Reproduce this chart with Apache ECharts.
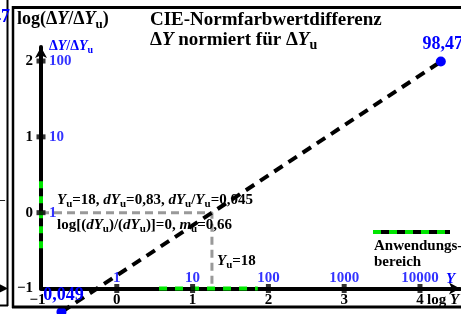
<!DOCTYPE html>
<html><head><meta charset="utf-8">
<script src="https://cdn.jsdelivr.net/npm/echarts@6/dist/echarts.min.js"></script>
<style>html,body{margin:0;padding:0;background:#fff}#c{width:461px;height:314px}</style>
</head><body><div id="c"></div>
<script>
// ---- data ----
const xTickVals = [0, 1, 2, 3, 4];
const yTickVals = [0, 1, 2];
const xTopLabels = ['1', '10', '100', '1000', '10000'];   // Y at log Y = 0..4
const yRightLabels = ['1', '10', '100'];                  // ΔY/ΔYu at 0..2
const lineX = [-0.73, 4.275];
const lineY = [-1.31, 1.993];
const endLabels = ['0,049', '98,47'];
const logYu = 1.2553;            // log 18
const rangeX = [0.557, 1.86];    // application range on log Y
const rangeY = [-0.47, 0.42];    // application range on log ratio

const F = 'Liberation Serif';
const BLUE = '#0000ff';
const GREEN = '#00e600';

function rich(fs, color) {
  const sub = Math.round(fs * 0.72);
  return {
    n: {fontFamily: F, fontWeight: 'bold', fontSize: fs, fill: color, lineHeight: fs, verticalAlign: 'top'},
    i: {fontFamily: F, fontWeight: 'bold', fontStyle: 'italic', fontSize: fs, fill: color, lineHeight: fs, verticalAlign: 'top'},
    s: {fontFamily: F, fontWeight: 'bold', fontSize: sub, fill: color, lineHeight: sub, padding: [Math.round(fs * 0.42), 0, 0, 0], verticalAlign: 'top'}
  };
}
function mk(str) {
  return str.split(/(\*[^*]+\*|_[^_]+_)/).filter(s => s).map(s => {
    if (s[0] === '*') return '{i|' + s.slice(1, -1) + '}';
    if (s[0] === '_') return '{s|' + s.slice(1, -1) + '}';
    return '{n|' + s + '}';
  }).join('');
}
function T(x, y, str, fs, color, align) {
  color = color || '#000';
  return {type: 'text', x: x, y: y, z: 10, silent: true,
    style: {text: mk(str), rich: rich(fs, color), align: align || 'left', verticalAlign: 'middle',
      fill: color, font: 'bold ' + fs + 'px "' + F + '"'}};
}
function L(x1, y1, x2, y2, w, color, dash) {
  return {type: 'line', z: 9, silent: true, shape: {x1, y1, x2, y2},
    style: {stroke: color || '#000', lineWidth: w, lineDash: dash || null}};
}

const chart = echarts.init(document.getElementById('c'), null, {renderer: 'canvas'});
const lbl = (fs, color) => ({fontFamily: F, fontWeight: 'bold', fontSize: fs, color: color});

chart.setOption({
  animation: false,
  backgroundColor: '#fff',
  grid: {left: 41, right: 1, top: 47, bottom: 25.5, containLabel: false, outerBoundsMode: 'none'},
  xAxis: {
    type: 'value', min: -1, max: 4.528, interval: 1,
    splitLine: {show: false}, axisTick: {show: false},
    axisLine: {onZero: false, lineStyle: {color: '#000', width: 4}, symbol: ['none', 'arrow'], symbolSize: [9, 11]},
    axisLabel: {margin: 4, ...lbl(15, '#000'),
      formatter: v => (Math.abs(v - Math.round(v)) > 1e-6) ? '' : (v < 0 ? '{m|\u2212' + Math.abs(v) + '}' : String(v)),
      rich: {m: {...lbl(15, '#000'), padding: [0, 7, 0, 0]}}}
  },
  yAxis: {
    type: 'value', min: -1, max: 2.185, interval: 1,
    splitLine: {show: false}, axisTick: {show: false},
    axisLine: {onZero: false, lineStyle: {color: '#000', width: 4}, symbol: ['none', 'arrow'], symbolSize: [9, 11]},
    axisLabel: {margin: 8, ...lbl(15, '#000'),
      formatter: v => (Math.abs(v - Math.round(v)) > 1e-6) ? '' : (v < 0 ? '\u2212' + Math.abs(v) : String(v))}
  },
  series: [
    {type: 'line', z: 3, clip: false, symbol: 'none', data: [[rangeX[0], -1], [rangeX[1], -1]],
      lineStyle: {color: GREEN, width: 4, type: [8, 8]}},
    {type: 'line', z: 3, clip: false, symbol: 'none', data: [[-1, rangeY[0]], [-1, rangeY[1]]],
      lineStyle: {color: GREEN, width: 4, type: [7, 8]}},
    {type: 'line', z: 2, clip: false, symbol: 'none', data: [[-1, 0], [logYu, 0], [logYu, -1]],
      lineStyle: {color: '#999', width: 3, type: [8, 5]}},
    {type: 'scatter', z: 4, symbol: 'rect', symbolSize: [5, 9], itemStyle: {color: '#000'},
      data: xTickVals.map(v => [v, -1])},
    {type: 'scatter', z: 4, symbol: 'rect', symbolSize: [9, 5], itemStyle: {color: '#000'},
      data: yTickVals.map(v => [-1, v])},
    {type: 'line', z: 5, clip: false, symbol: 'circle', symbolSize: 10, showSymbol: true,
      itemStyle: {color: BLUE}, lineStyle: {color: '#000', width: 4, type: [10, 7]},
      label: {show: true, position: 'top', distance: 3, offset: [2, 0], ...lbl(18, BLUE), formatter: p => endLabels[p.dataIndex]},
      data: lineX.map((x, i) => [x, lineY[i]])},
    {type: 'scatter', z: 6, symbolSize: 0, silent: true,
      label: {show: true, position: 'top', distance: 3, ...lbl(15, BLUE), formatter: p => xTopLabels[p.dataIndex]},
      data: xTickVals.map(v => [v, -1])},
    {type: 'scatter', z: 6, symbolSize: 0, silent: true,
      label: {show: true, position: 'right', distance: 8, ...lbl(15, BLUE), formatter: p => yRightLabels[p.dataIndex]},
      data: yTickVals.map(v => [-1, v])}
  ],
  graphic: [
    // frames
    L(7.5, 0, 7.5, 306, 2),
    L(0, 305.5, 8, 305.5, 2),
    L(13, 6, 13, 308, 2.5),
    L(12, 7.5, 461, 7.5, 3),
    L(12, 307, 461, 307, 3),
    // neighbour remnants
    T(10, 17, '98,47', 18, BLUE, 'right'),
    T(-1, 200, '\u2013', 12, '#000'),
    T(0, 288, '\u25B6', 10, '#000'),
    // titles
    T(17, 19, 'log(\u0394*Y*/\u0394*Y*_u_)', 18),
    T(150, 20, 'CIE-Normfarbwertdifferenz', 19),
    T(150, 40, '\u0394*Y* normiert f\u00fcr \u0394*Y*_u_', 19),
    T(49, 46, '\u0394*Y*/\u0394*Y*_u_', 14, BLUE),
    // annotations
    T(57, 200, '*Y*_u_=18, *dY*_u_=0,83, *dY*_u_/*Y*_u_=0,045', 15),
    T(57, 225, 'log[(*dY*_u_)/(*dY*_u_)]=0, *m*_u_=0,66', 15),
    T(217, 261, '*Y*_u_=18', 15),
    T(427, 300, 'log *Y*', 15),
    T(446, 279, '*Y*', 15, BLUE),
    // legend
    L(373, 232, 450, 232, 4, '#000'),
    L(373, 232, 450, 232, 4, GREEN, [8, 8]),
    T(374, 246, 'Anwendungs-', 15),
    T(374, 262, 'bereich', 15)
  ]
});
</script>
</body></html>
